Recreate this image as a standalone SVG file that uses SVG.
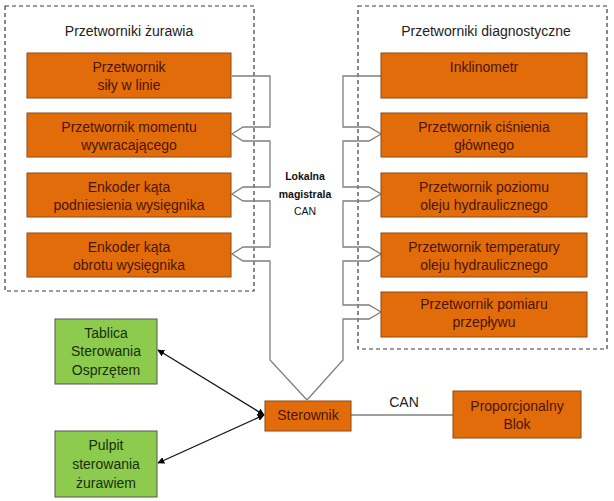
<svg xmlns="http://www.w3.org/2000/svg" width="614" height="501" viewBox="0 0 614 501">
<defs>
<marker id="ah" viewBox="0 0 10 10" refX="9" refY="5" markerWidth="7" markerHeight="7" markerUnits="userSpaceOnUse" orient="auto-start-reverse">
<path d="M0,0 L10,5 L0,10 z" fill="#000"/>
</marker>
<style>
.frame{fill:none;stroke:#3a3a3a;stroke-width:1.2;stroke-dasharray:4 3}
.ob{fill:#E36C0A;stroke:#8a4a14;stroke-width:1}
.gb{fill:#8CCB4E;stroke:#555;stroke-width:1}
.t{font-family:"Liberation Sans",Arial,sans-serif;font-size:14px;text-anchor:middle}
.ot{fill:#4a1500}
.gt{fill:#1b2e0c}
.tt{fill:#222}
.bus{fill:none;stroke:#7f7f7f;stroke-width:1.3}
.ar{fill:none;stroke:#111;stroke-width:1.3;marker-start:url(#ah);marker-end:url(#ah)}
.lbl{font-family:"Liberation Sans",Arial,sans-serif;font-size:10.5px;text-anchor:middle;fill:#111}
</style>
</defs>
<rect width="614" height="501" fill="#fff"/>

<g id="frame-zurawia">
<rect class="frame" x="5" y="6" width="249" height="285"/>
<text class="t tt" x="129" y="36">Przetworniki żurawia</text>
</g>
<g id="frame-diag">
<rect class="frame" x="358" y="6" width="249" height="343"/>
<text class="t tt" x="486" y="36">Przetworniki diagnostyczne</text>
</g>

<g id="connectors">
<path class="bus" d="M232,76 H270 V127 H243 L232,134 L243,141 H270 V187 H243 L232,194 L243,201 H270 V247 H243 L232,254 L243,261 H270 V360 L307,400"/>
<path class="bus" d="M381,76 H343 V127 H369 L381,134 L369,141 H343 V187 H369 L381,194 L369,201 H343 V247 H369 L381,254 L369,261 H343 V305 H369 L381,312 L369,319 H343 V360 L307,400"/>
<line class="bus" x1="351" y1="415" x2="453" y2="415" stroke="#444"/>
<line class="ar" x1="158" y1="350" x2="264" y2="415"/>
<line class="ar" x1="158" y1="463" x2="264" y2="415"/>
<text class="lbl" x="305" y="180" font-weight="bold">Lokalna</text>
<text class="lbl" x="305" y="198" font-weight="bold">magistrala</text>
<text class="lbl" x="305" y="215">CAN</text>
<text class="t tt" x="404" y="407">CAN</text>
</g>

<g id="n-sila">
<rect class="ob" x="27" y="53" width="204" height="45"/>
<text class="t ot" x="129" y="72">Przetwornik</text>
<text class="t ot" x="129" y="90">siły w linie</text>
</g>
<g id="n-moment">
<rect class="ob" x="27" y="113" width="204" height="44"/>
<text class="t ot" x="129" y="132">Przetwornik momentu</text>
<text class="t ot" x="129" y="150">wywracającego</text>
</g>
<g id="n-podniesienie">
<rect class="ob" x="27" y="173" width="204" height="44"/>
<text class="t ot" x="129" y="192">Enkoder kąta</text>
<text class="t ot" x="129" y="210">podniesienia wysięgnika</text>
</g>
<g id="n-obrot">
<rect class="ob" x="27" y="233" width="204" height="44"/>
<text class="t ot" x="129" y="252">Enkoder kąta</text>
<text class="t ot" x="129" y="270">obrotu wysięgnika</text>
</g>

<g id="n-inklinometr">
<rect class="ob" x="381" y="53" width="206" height="45"/>
<text class="t ot" x="484" y="72">Inklinometr</text>
</g>
<g id="n-cisnienie">
<rect class="ob" x="381" y="113" width="206" height="44"/>
<text class="t ot" x="484" y="132">Przetwornik ciśnienia</text>
<text class="t ot" x="484" y="150">głównego</text>
</g>
<g id="n-poziom">
<rect class="ob" x="381" y="173" width="206" height="44"/>
<text class="t ot" x="484" y="192">Przetwornik poziomu</text>
<text class="t ot" x="484" y="210">oleju hydraulicznego</text>
</g>
<g id="n-temperatura">
<rect class="ob" x="381" y="233" width="206" height="44"/>
<text class="t ot" x="484" y="252">Przetwornik temperatury</text>
<text class="t ot" x="484" y="270">oleju hydraulicznego</text>
</g>
<g id="n-przeplyw">
<rect class="ob" x="381" y="292" width="206" height="45"/>
<text class="t ot" x="484" y="309">Przetwornik pomiaru</text>
<text class="t ot" x="484" y="327">przepływu</text>
</g>

<g id="n-tablica">
<rect class="gb" x="55" y="319" width="102" height="65"/>
<text class="t gt" x="106" y="338">Tablica</text>
<text class="t gt" x="106" y="356">Sterowania</text>
<text class="t gt" x="106" y="375">Osprzętem</text>
</g>
<g id="n-pulpit">
<rect class="gb" x="55" y="431" width="102" height="66"/>
<text class="t gt" x="106" y="450">Pulpit</text>
<text class="t gt" x="106" y="469">sterowania</text>
<text class="t gt" x="106" y="488">żurawiem</text>
</g>
<g id="n-sterownik">
<rect class="ob" x="265" y="401" width="86" height="30"/>
<text class="t ot" x="308" y="420">Sterownik</text>
</g>
<g id="n-blok">
<rect class="ob" x="453" y="391" width="128" height="47"/>
<text class="t ot" x="517" y="411">Proporcjonalny</text>
<text class="t ot" x="517" y="429">Blok</text>
</g>
</svg>
